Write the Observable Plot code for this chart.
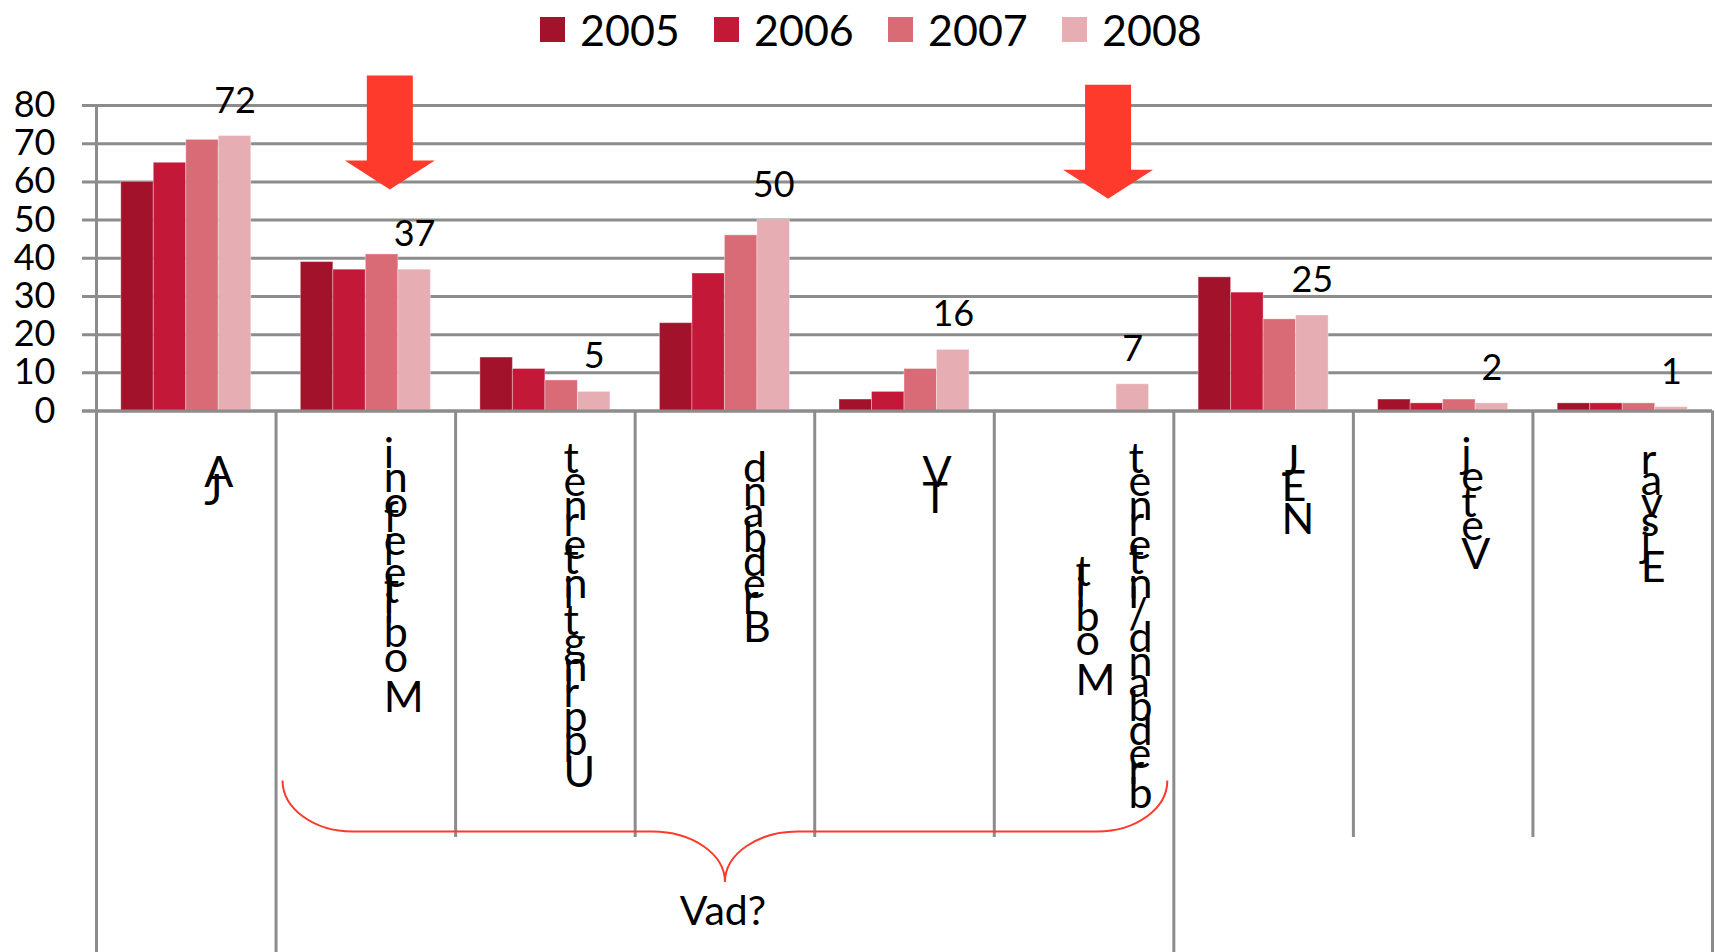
<!DOCTYPE html>
<html>
<head>
<meta charset="utf-8">
<script src="https://cdn.jsdelivr.net/npm/d3@7"></script>
<script src="https://cdn.jsdelivr.net/npm/@observablehq/plot@0.6"></script>
<style>
  html, body { margin: 0; padding: 0; background: #fff; overflow: hidden; }
  #wrap { position: relative; width: 1715px; height: 952px; font-family: Lato, sans-serif; }
  #legend { position: absolute; left: 540px; top: 9px; height: 40px; display: flex; align-items: center; }
  .item { width: 174px; display: flex; align-items: center; font-size: 43px; line-height: 1; color: #000; }
  .sw { width: 25px; height: 25px; margin-right: 15px; flex: none; }
  svg { display: block; }
</style>
</head>
<body>
<div id="wrap"><div id="legend"></div></div>
<script>
// ---- data ----
const categories = ["JA", "Mobiltelefoni", "Uppringt internet", "Bredband", "TV",
  "Mobilt bredband/internet", "NEJ", "Vet ej", "Ej svar"];
const categoryLines = [["JA"], ["Mobiltelefoni"], ["Uppringt internet"], ["Bredband"], ["TV"],
  ["Mobilt", "bredband/internet"], ["NEJ"], ["Vet ej"], ["Ej svar"]];
const years = ["2005", "2006", "2007", "2008"];
const v2005 = [60, 39, 14, 23, 3, 0, 35, 3, 2];
const v2006 = [65, 37, 11, 36, 5, 0, 31, 2, 2];
const v2007 = [71, 41, 8, 46, 11, 0, 24, 3, 2];
const v2008 = [72, 37, 5, 50, 16, 7, 25, 2, 1];
const yTicks = [0, 10, 20, 30, 40, 50, 60, 70, 80];
const groupLabels = ["", "Vad?", ""];
const groupSpans = [1, 5, 3];
const arrowCategories = ["Mobiltelefoni", "Mobilt bredband/internet"];
const arrowTips = [58, 55.6];
const colors = ["#A3122B", "#C31837", "#D86B76", "#E6ADB2"];

// ---- layout ----
const W = 1715, H = 952;
const mL = 96, mR = 3, mT = 105, mB = 541.5;
const frameH = H - mT - mB;
const bw = (W - mL - mR) / categories.length;
const barW = 32.5;
const side = (bw - barW * years.length) / 2;
const gray = "#8C8C8C";
const red = "#FE3A2C";
const labelFont = 43;
const labelTop = 47;
const shortDivider = 426.5;

const series = [v2005, v2006, v2007, v2008];
const rows = years.flatMap((yr, k) => categories.map((c, i) => ({year: yr, k, cat: c, value: series[k][i]})));

// groups
const groupStarts = [];
{ let acc = 0; for (const s of groupSpans) { groupStarts.push(acc); acc += s; } }
const groupDiv = categories.filter((c, i) => i > 0 && groupStarts.includes(i));
const innerDiv = categories.filter((c, i) => i > 0 && !groupStarts.includes(i));
const groupRows = groupLabels.map((g, gi) => ({
  label: g, span: groupSpans[gi],
  mid: categories[groupStarts[gi] + Math.floor(groupSpans[gi] / 2)]
})).filter(d => d.label);

// text measuring for the stacked category labels
const mctx = document.createElement("canvas").getContext("2d");
mctx.font = `${labelFont}px Lato`;
const textW = s => mctx.measureText(s).width;

// custom symbols
const arrowSymbol = {
  draw(ctx) {
    const sw = 23, hw = 45, hl = 29, L = 114;
    ctx.moveTo(-sw, -L); ctx.lineTo(sw, -L); ctx.lineTo(sw, -hl); ctx.lineTo(hw, -hl);
    ctx.lineTo(0, 0); ctx.lineTo(-hw, -hl); ctx.lineTo(-sw, -hl); ctx.closePath();
  }
};
const braceSymbol = (span) => ({
  draw(ctx) {
    const h = span * bw / 2 - 6.5, y0 = 369.5, y1 = 420.5, y2 = 471, rx = 70, rx2 = 73, k = 0.5523;
    ctx.moveTo(-h, y0);
    ctx.bezierCurveTo(-h, y0 + k * (y1 - y0), -h + rx * (1 - k), y1, -h + rx, y1);
    ctx.lineTo(-rx2, y1);
    ctx.bezierCurveTo(-rx2 * (1 - k), y1, 0, y2 - k * (y2 - y1), 0, y2);
    ctx.bezierCurveTo(0, y2 - k * (y2 - y1), rx2 * (1 - k), y1, rx2, y1);
    ctx.lineTo(h - rx, y1);
    ctx.bezierCurveTo(h - rx * (1 - k), y1, h, y0 + k * (y1 - y0), h, y0);
  }
});

// ---- marks ----
const marks = [];
marks.push(Plot.ruleY(yTicks, {y: d => d, stroke: gray, strokeWidth: 3, insetLeft: -14}));
years.forEach((yr, k) => {
  marks.push(Plot.barY(rows.filter(d => d.k === k), {
    x: "cat", y: "value", fill: colors[k], stroke: "#fff", strokeOpacity: 0.35, strokeWidth: 1,
    insetLeft: side + k * barW, insetRight: side + (years.length - 1 - k) * barW
  }));
});
// y axis line and category dividers
marks.push(Plot.ruleX([categories[0]], {x: d => d, dx: -bw / 2, stroke: gray, strokeWidth: 3, insetBottom: -mB}));
marks.push(Plot.ruleX(groupDiv, {x: d => d, dx: -bw / 2, stroke: gray, strokeWidth: 3, insetTop: frameH, insetBottom: -mB}));
marks.push(Plot.ruleX([categories[categories.length - 1]], {x: d => d, dx: bw / 2, stroke: gray, strokeWidth: 3, insetTop: frameH, insetBottom: -mB}));
marks.push(Plot.ruleX(innerDiv, {x: d => d, dx: -bw / 2, stroke: gray, strokeWidth: 3, insetTop: frameH, insetBottom: -shortDivider}));
marks.push(Plot.ruleY([0], {y: d => d, stroke: gray, strokeWidth: 3, insetLeft: -14}));

// y tick labels
marks.push(Plot.text(yTicks, {y: d => d, text: d => String(d), frameAnchor: "left", textAnchor: "end", dx: -41, fontSize: 36, fill: "#000"}));

// value labels on 2008
marks.push(Plot.text(rows.filter(d => d.k === 3), {
  x: "cat", y: "value", text: d => String(d.value), dx: 1.5 * barW, dy: -35, fontSize: 36, fill: "#000"
}));

// category labels: letters stacked upward (first letter at the bottom), advance = letter width
const labelInfo = new Map();
categories.forEach((c, i) => {
  const lines = categoryLines[i];
  const n = lines.length;
  const totals = lines.map(l => d3.sum(Array.from(l), ch => textW(ch)));
  const tMax = d3.max(totals);
  lines.forEach((line, j) => {
    const chars = Array.from(line);
    const rev = chars.slice().reverse();
    labelInfo.set(rev.join(""), {chars, total: totals[j], shift: (tMax - totals[j]) / 2});
    marks.push(Plot.text([{cat: c, t: rev.join("\n")}], {
      x: "cat", text: "t", frameAnchor: "bottom", textAnchor: "start", lineAnchor: "top",
      fontSize: labelFont, fill: "#000",
      dx: 18 + (j - (n - 1) / 2) * 53,
      dy: labelTop
    }));
  });
});

// group labels and brace
groupRows.forEach(g => {
  marks.push(Plot.dot([g], {x: "mid", frameAnchor: "bottom", r: 1, symbol: braceSymbol(g.span), fill: "none", stroke: red, strokeWidth: 2}));
  marks.push(Plot.text([g], {x: "mid", text: "label", frameAnchor: "bottom", dy: 514, dx: -2, fontSize: 41, fill: "#000"}));
});

// arrows
marks.push(Plot.dot(arrowCategories.map((c, i) => ({cat: c, tip: arrowTips[i]})), {
  x: "cat", y: "tip", r: 1, symbol: arrowSymbol, fill: red, stroke: "none", dx: 24
}));

const chart = Plot.plot({
  width: W, height: H,
  marginLeft: mL, marginRight: mR, marginTop: mT, marginBottom: mB,
  style: {fontFamily: "Lato, sans-serif", background: "white", overflow: "visible"},
  x: {type: "band", domain: categories, padding: 0, round: false, axis: null},
  y: {domain: [0, 80], axis: null},
  marks
});

// place each stacked letter by the cumulative letter widths
d3.select(chart).selectAll("text").each(function () {
  const info = labelInfo.get(this.textContent);
  if (!info) return;
  const tspans = this.querySelectorAll("tspan");
  const L = info.chars.length;
  if (tspans.length !== L) return;
  const base = [];
  let cum = 0;
  info.chars.forEach((ch, k) => { base[k] = info.total - cum + info.shift; cum += textW(ch); });
  tspans.forEach((ts, m) => {
    ts.removeAttribute("dy");
    ts.setAttribute("y", base[L - 1 - m].toFixed(1));
  });
});
document.getElementById("wrap").appendChild(chart);

// legend
const legend = d3.select("#legend");
years.forEach((yr, k) => {
  const it = legend.append("div").attr("class", "item");
  it.append("div").attr("class", "sw").style("background", colors[k]);
  it.append("span").text(yr);
});
</script>
</body>
</html>
